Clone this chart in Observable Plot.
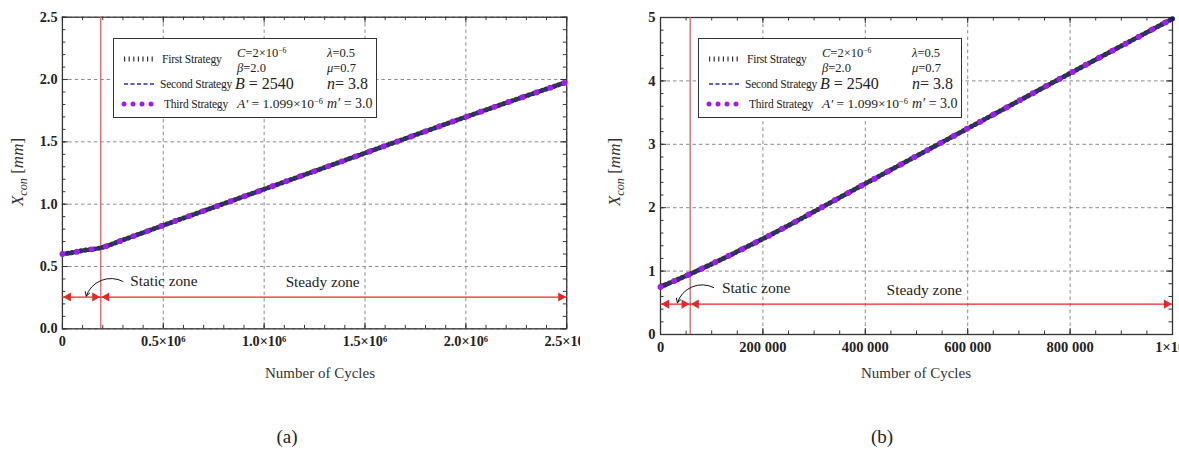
<!DOCTYPE html>
<html><head><meta charset="utf-8">
<script src="https://cdn.jsdelivr.net/npm/d3@7"></script>
<script src="https://cdn.jsdelivr.net/npm/@observablehq/plot@0.6"></script>
<style>
body{margin:0;background:#fff;}
#root{position:relative;width:1179px;height:453px;overflow:hidden;font-family:"Liberation Serif","Times New Roman",serif;color:#222;background:#fff;}
.panel{position:absolute;top:0;height:400px;overflow:hidden;}
.lg{position:absolute;border:1.5px solid #333;background:#fff;box-sizing:border-box;}
.t{position:absolute;line-height:1;transform:translateY(-50%);white-space:nowrap;}
.t sup{font-size:0.62em;vertical-align:0.55em;line-height:0;}
.ylab{position:absolute;transform:translate(-50%,-50%) rotate(-90deg);font-size:17px;white-space:nowrap;font-style:italic;color:#333;}
.ylab sub{font-size:0.72em;vertical-align:-0.3em;line-height:0;}
.xlab{position:absolute;transform:translate(-50%,-50%);font-size:15px;white-space:nowrap;color:#333;}
.cap{position:absolute;transform:translate(-50%,-50%);font-size:19px;}
</style></head><body><div id="root"></div>
<script>
// ---------- data ----------
const strategies = ["First Strategy", "Second Strategy", "Third Strategy"];
const cyclesA = [0, 50000, 100000, 190000, 300000, 500000, 1000000, 1500000, 2000000, 2500000];
const xconA   = [0.60, 0.612, 0.628, 0.65, 0.713, 0.83, 1.12, 1.41, 1.70, 1.98];
const cyclesB = [0, 20000, 40000, 58000, 200000, 400000, 600000, 800000, 1000000];
const xconB   = [0.75, 0.82, 0.89, 0.955, 1.51, 2.38, 3.25, 4.12, 4.98];
const xTicksA  = [0, 500000, 1000000, 1500000, 2000000, 2500000];
const xLabelsA = ["0", "0.5×10⁶", "1.0×10⁶", "1.5×10⁶", "2.0×10⁶", "2.5×10⁶"];
const yTicksA  = [0, 0.5, 1.0, 1.5, 2.0, 2.5];
const yLabelsA = ["0.0", "0.5", "1.0", "1.5", "2.0", "2.5"];
const xTicksB  = [0, 200000, 400000, 600000, 800000, 1000000];
const xLabelsB = ["0", "200 000", "400 000", "600 000", "800 000", "1×10⁶"];
const yTicksB  = [0, 1, 2, 3, 4, 5];
const yLabelsB = ["0", "1", "2", "3", "4", "5"];
const staticEnd = {a: 190000, b: 58000};
const zoneLevel = {a: 0.255, b: 0.48};
const zoneNames = ["Static zone", "Steady zone"];
const paramsLeft  = ["C=2×10<sup>−6</sup>", "β=2.0", "B = 2540", "A′ = 1.099×10<sup>−6</sup>"];
const paramsRight = ["λ=0.5", "μ=0.7", "n= 3.8", "m′ = 3.0"];
const captions = ["(a)", "(b)"];

// ---------- styles ----------
const S1 = {stroke: "#333", strokeWidth: 5, strokeDasharray: "1.2,3.4"};
const S2 = {stroke: "#2a2ac0", strokeWidth: 1.5, strokeDasharray: "4,2.5"};
const S3 = {stroke: "#a01cf0", strokeWidth: 6, strokeDasharray: "0,15", strokeLinecap: "round"};
const RED = "#e8262a";

const panels = [
  {key: "a", left: 0, clipW: 580, width: 590, mL: 63, mR: 14,
   cycles: cyclesA, xcon: xconA, xDomain: [0, 2500000], yDomain: [0, 2.5],
   xTicks: xTicksA, xLabels: xLabelsA, yTicks: yTicksA, yLabels: yLabelsA, xMinor: 100000, yMinor: 0.1,
   ann: {staticX: 336000, staticY: 0.385, steadyX: 1290000, steadyY: 0.375,
         c1: [300000, 0.38], c2: [118000, 0.262]},
   legendLeft: 113, ylabX: 18, xlabX: 320, endDot: false},
  {key: "b", left: 590, clipW: 589, width: 589, mL: 70, mR: 7,
   cycles: cyclesB, xcon: xconB, xDomain: [0, 1000000], yDomain: [0, 5],
   xTicks: xTicksB, xLabels: xLabelsB, yTicks: yTicksB, yLabels: yLabelsB, xMinor: 50000, yMinor: 0.2,
   ann: {staticX: 120000, staticY: 0.73, steadyX: 515000, steadyY: 0.7,
         c1: [104000, 0.74], c2: [33000, 0.5]},
   legendLeft: 108, ylabX: 25, xlabX: 326, endDot: true}
];
const capX = [287, 882];

const root = document.getElementById("root");
const H = 400, MT = 17, MB = 66;

for (const p of panels) {
  const data = p.cycles.map((c, i) => ({c, v: p.xcon[i]}));
  const plotW = p.width - p.mL - p.mR, plotH = H - MT - MB;
  const [x0, x1] = p.xDomain, [y0, y1] = p.yDomain;
  const ly = px => px * (y1 - y0) / plotH;
  const lx = px => px * (x1 - x0) / plotW;
  const xMin = d3.range(x0, x1 + p.xMinor / 2, p.xMinor);
  const yMin = d3.range(y0, y1 + p.yMinor / 2, p.yMinor);
  const tickStyle = {stroke: "#333", strokeWidth: 1};
  const marks = [
    Plot.gridX(p.xTicks, {stroke: "#8a8a8a", strokeOpacity: 1, strokeDasharray: "3.5,3"}),
    Plot.gridY(p.yTicks, {stroke: "#8a8a8a", strokeOpacity: 1, strokeDasharray: "3.5,3"}),
    Plot.ruleX(p.xTicks, {y1: y0, y2: y0 + ly(6), ...tickStyle}),
    Plot.ruleX(p.xTicks, {y1: y1, y2: y1 - ly(6), ...tickStyle}),
    Plot.ruleX(xMin, {y1: y0, y2: y0 + ly(3.5), ...tickStyle}),
    Plot.ruleX(xMin, {y1: y1, y2: y1 - ly(3.5), ...tickStyle}),
    Plot.ruleY(p.yTicks, {x1: x0, x2: x0 + lx(6), ...tickStyle}),
    Plot.ruleY(p.yTicks, {x1: x1, x2: x1 - lx(6), ...tickStyle}),
    Plot.ruleY(yMin, {x1: x0, x2: x0 + lx(3.5), ...tickStyle}),
    Plot.ruleY(yMin, {x1: x1, x2: x1 - lx(3.5), ...tickStyle}),
    Plot.frame({stroke: "#333", strokeWidth: 1.3}),
    Plot.axisX(p.xTicks, {tickFormat: d => p.xLabels[p.xTicks.indexOf(d)], tickSize: 0, tickPadding: 7,
      fontSize: 14.5, fontWeight: "bold", fill: "#222", label: null}),
    Plot.axisY(p.yTicks, {tickFormat: d => p.yLabels[p.yTicks.indexOf(d)], tickSize: 0, tickPadding: 5,
      fontSize: 14.5, fontWeight: "bold", fill: "#222", label: null}),
    Plot.ruleX([staticEnd[p.key]], {stroke: "#e06060", strokeWidth: 1.3}),
    Plot.ruleY([zoneLevel[p.key]], {x1: x0, x2: x1, stroke: RED, strokeWidth: 1.3}),
    Plot.dot([x0, staticEnd[p.key]], {x: d => d, y: zoneLevel[p.key], symbol: "triangle", r: 3.4, fill: RED, stroke: null, rotate: -90, dx: 6}),
    Plot.dot([staticEnd[p.key], x1], {x: d => d, y: zoneLevel[p.key], symbol: "triangle", r: 3.4, fill: RED, stroke: null, rotate: 90, dx: -6}),
    Plot.text([zoneNames[0]], {x: p.ann.staticX, y: p.ann.staticY, text: d => d, textAnchor: "start", fontSize: 15.5, fill: "#222"}),
    Plot.text([zoneNames[1]], {x: p.ann.steadyX, y: p.ann.steadyY, text: d => d, textAnchor: "middle", fontSize: 15.5, fill: "#222"}),
    Plot.arrow([p.ann], {x1: d => d.c1[0], y1: d => d.c1[1], x2: d => d.c2[0], y2: d => d.c2[1],
      bend: -50, stroke: "#111", strokeWidth: 1, headLength: 7}),
    Plot.line(data, {x: "c", y: "v", curve: "monotone-x", ...S1}),
    Plot.line(data, {x: "c", y: "v", curve: "monotone-x", ...S2}),
    Plot.line(data, {x: "c", y: "v", curve: "monotone-x", ...S3})
  ];
  if (p.endDot) marks.push(Plot.dot(data.slice(-1), {x: "c", y: "v", r: 2.5, fill: "#1a1a60"}));
  const chart = Plot.plot({
    width: p.width, height: H, marginLeft: p.mL, marginRight: p.mR, marginTop: MT, marginBottom: MB,
    x: {domain: p.xDomain}, y: {domain: p.yDomain},
    style: {fontFamily: "'Liberation Serif', 'Times New Roman', serif", fontSize: "13px", background: "transparent", overflow: "visible"},
    marks
  });
  const div = document.createElement("div");
  div.className = "panel";
  div.style.left = p.left + "px";
  div.style.width = p.clipW + "px";
  div.appendChild(chart);

  // legend
  const lg = document.createElement("div");
  lg.className = "lg";
  lg.style.left = p.legendLeft + "px"; lg.style.top = "38px";
  lg.style.width = "264px"; lg.style.height = "80px";
  const rowsY = [20, 45, 65];
  const styles = [S1, S2, S3];
  const textX = [48, 46, 50];
  strategies.forEach((s, i) => {
    const st = styles[i];
    const svg = `<svg width="34" height="10" style="position:absolute;left:8px;top:${rowsY[i] - 5}px;overflow:visible">
      <line x1="2" y1="5" x2="32" y2="5" stroke="${st.stroke}" stroke-width="${i === 2 ? 5 : st.strokeWidth}" stroke-dasharray="${i === 2 ? '0,9' : st.strokeDasharray}" ${st.strokeLinecap ? 'stroke-linecap="round"' : ''}/></svg>`;
    lg.insertAdjacentHTML("beforeend", svg);
    lg.insertAdjacentHTML("beforeend", `<div class="t" style="left:${textX[i]}px;top:${rowsY[i] + 1}px;font-size:11.5px;letter-spacing:-0.2px">${s}</div>`);
  });
  const pY = [14, 29, 45, 65], pSize = [12.5, 12.5, 16, 13.5], pRSize = [12.5, 12.5, 16, 14];
  const italicize = s => s.replace(/^([A-Za-zβλμ]′?)/, "<i>$1</i>");
  paramsLeft.forEach((s, i) => {
    lg.insertAdjacentHTML("beforeend", `<div class="t" style="left:${i === 2 ? 121 : 123}px;top:${pY[i]}px;font-size:${pSize[i]}px">${italicize(s)}</div>`);
  });
  paramsRight.forEach((s, i) => {
    lg.insertAdjacentHTML("beforeend", `<div class="t" style="left:213px;top:${pY[i]}px;font-size:${pRSize[i]}px">${italicize(s)}</div>`);
  });
  div.appendChild(lg);

  div.insertAdjacentHTML("beforeend", `<div class="ylab" style="left:${p.ylabX}px;top:172px">X<sub>con</sub> <span style="font-style:normal">[</span>mm<span style="font-style:normal">]</span></div>`);
  div.insertAdjacentHTML("beforeend", `<div class="xlab" style="left:${p.xlabX}px;top:373px">Number of Cycles</div>`);
  root.appendChild(div);
}
captions.forEach((c, i) => {
  root.insertAdjacentHTML("beforeend", `<div class="cap" style="left:${capX[i]}px;top:437px">${c}</div>`);
});
</script>
</body></html>
